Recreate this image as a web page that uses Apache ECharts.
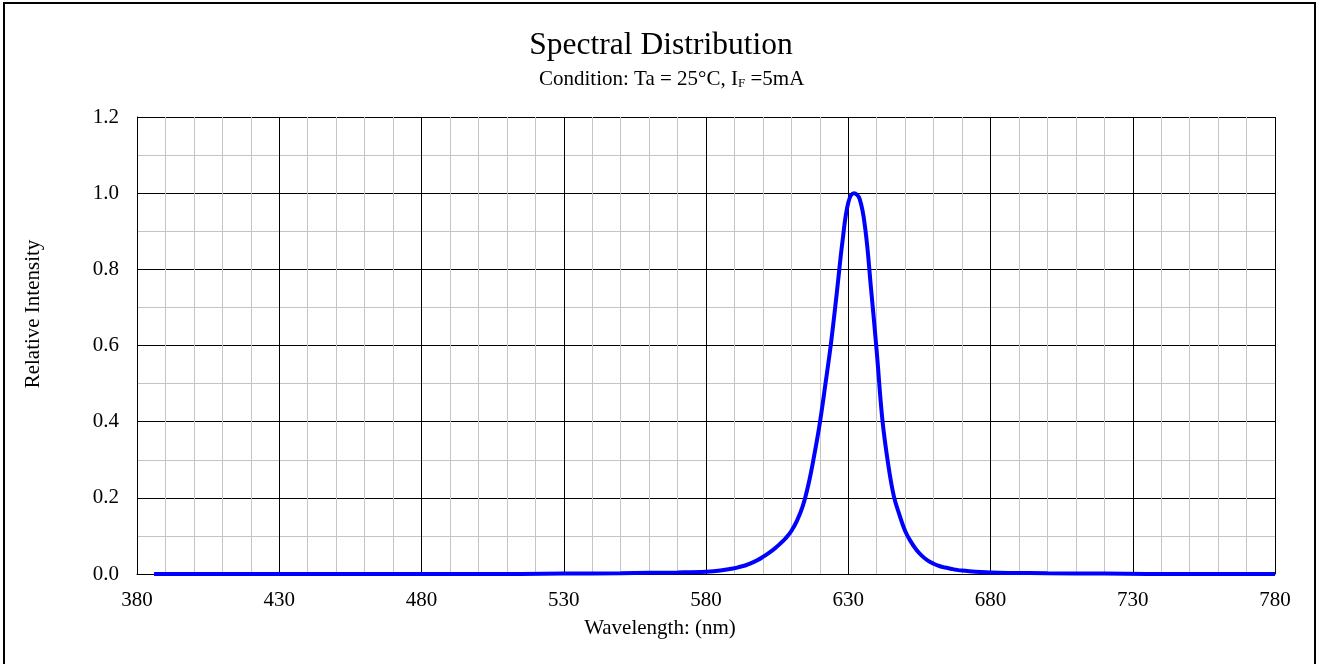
<!DOCTYPE html>
<html>
<head>
<meta charset="utf-8">
<script src="https://cdn.jsdelivr.net/npm/echarts@6/dist/echarts.min.js"></script>
<style>html,body{margin:0;padding:0;background:#fff;}#c{width:1322px;height:664px;}</style>
</head>
<body>
<div id="c"></div>
<script>
var wavelengths = [386,400,450,500,530,550,560,570,580,585,590,592,594,596,598,600,602,604,606,608,610,612,614,616,618,620,622,624,626,628,630,632,634,636,638,640,642,644,646,648,650,652,654,656,658,660,662,664,666,668,670,680,700,720,750,780];
var intensity   = [0.000,0.000,0.000,0.000,0.001,0.002,0.003,0.004,0.006,0.009,0.015,0.019,0.023,0.029,0.036,0.045,0.055,0.066,0.079,0.094,0.113,0.14,0.178,0.235,0.31,0.396,0.50,0.61,0.74,0.875,0.975,1.0,0.985,0.905,0.75,0.585,0.405,0.29,0.205,0.155,0.113,0.085,0.063,0.047,0.035,0.027,0.021,0.017,0.014,0.011,0.009,0.004,0.002,0.001,0.000,0.000];
var xTicks = [380,430,480,530,580,630,680,730,780];
var yTicks = [0.0,0.2,0.4,0.6,0.8,1.0,1.2];
var titleText = 'Spectral Distribution';
var xName = 'Wavelength: (nm)';
var yName = 'Relative Intensity';

var data = wavelengths.map(function(w,i){return [w,intensity[i]];});
var font = '"Liberation Serif","Times New Roman",serif';
var chart = echarts.init(document.getElementById('c'));
chart.setOption({
  animation:false,
  backgroundColor:'#fff',
  title:[{
    text:titleText,
    left:'center', top:25,
    textStyle:{fontFamily:font,fontSize:31.5,fontWeight:'normal',color:'#000'}
  },{
    text:'Condition: Ta = 25°C, I{sub|F} =5mA',
    left:534, top:63,
    textStyle:{fontFamily:font,fontSize:21,fontWeight:'normal',color:'#000',
      rich:{sub:{fontFamily:font,fontSize:13,color:'#000',padding:[9,0,0,0]}}}
  }],
  graphic:[
    {type:'rect',shape:{x:4,y:3,width:1311,height:670},style:{fill:'none',stroke:'#000',lineWidth:2},z:100},
    {type:'text',x:660,y:628,style:{text:xName,font:'21px "Liberation Serif","Times New Roman",serif',fill:'#000',textAlign:'center',textVerticalAlign:'middle'}},
    {type:'text',x:33,y:314,rotation:Math.PI/2,style:{text:yName,font:'21px "Liberation Serif","Times New Roman",serif',fill:'#000',textAlign:'center',textVerticalAlign:'middle'}}
  ],
  grid:{left:137,right:47,top:117,bottom:90},
  xAxis:{
    type:'value',min:xTicks[0],max:xTicks[xTicks.length-1],interval:xTicks[1]-xTicks[0],
    axisLine:{show:true,lineStyle:{color:'#000',width:1}},
    axisTick:{show:false},
    axisLabel:{fontFamily:font,fontSize:21,color:'#000',margin:16},
    splitLine:{show:true,lineStyle:{color:'#000',width:1}},
    minorTick:{show:false,splitNumber:5},
    minorSplitLine:{show:true,lineStyle:{color:'#c4c4c4',width:1}}
  },
  yAxis:{
    type:'value',min:yTicks[0],max:yTicks[yTicks.length-1],interval:0.2,
    axisLine:{show:true,lineStyle:{color:'#000',width:1}},
    axisTick:{show:false},
    axisLabel:{fontFamily:font,fontSize:21,color:'#000',margin:18,formatter:function(v){return v.toFixed(1);}},
    splitLine:{show:true,lineStyle:{color:'#000',width:1}},
    minorTick:{show:false,splitNumber:2},
    minorSplitLine:{show:true,lineStyle:{color:'#c4c4c4',width:1}}
  },
  series:[{
    type:'line',data:data,smooth:0.4,showSymbol:false,
    lineStyle:{color:'#0000ff',width:4},z:10
  }]
});
</script>
</body>
</html>
